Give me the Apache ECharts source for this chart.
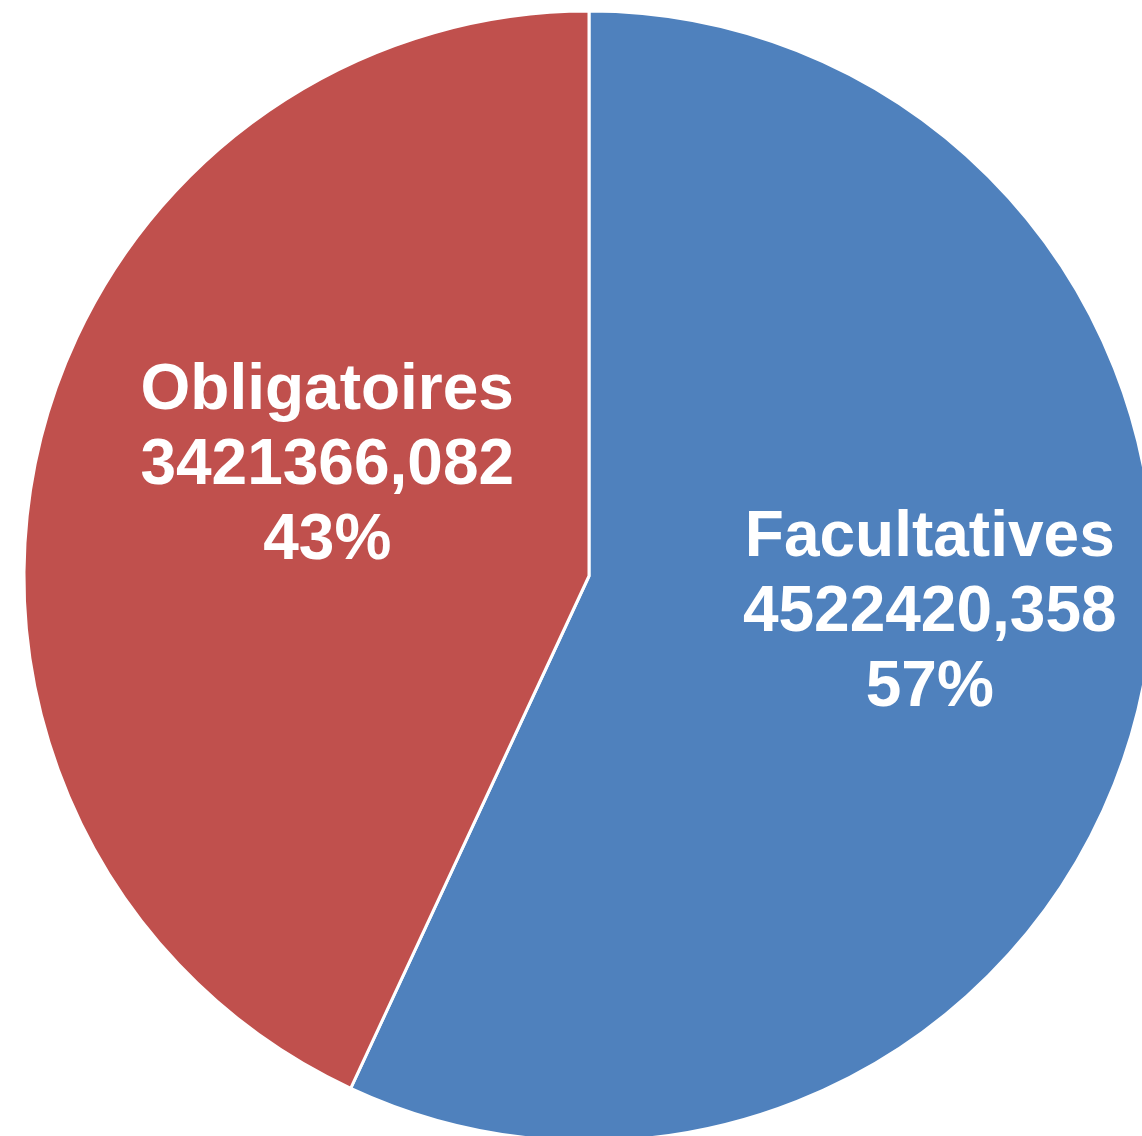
<!DOCTYPE html>
<html>
<head>
<meta charset="utf-8">
<script src="https://cdn.jsdelivr.net/npm/echarts@6/dist/echarts.min.js"></script>
<style>
html,body{margin:0;padding:0;background:#fff;}
#chart{width:1142px;height:1136px;}
</style>
</head>
<body>
<div id="chart"></div>
<script>
const categories = ['Facultatives', 'Obligatoires'];
const values = [4522420.358, 3421366.082];
const valueLabels = ['4522420,358', '3421366,082'];
const colors = ['#4F81BD', '#C0504D'];
const labelShift = [[62, -24], [17, -48]];

const total = values.reduce((a, b) => a + b, 0);
const chart = echarts.init(document.getElementById('chart'), null, {renderer: 'canvas'});
chart.setOption({
  animation: false,
  backgroundColor: '#ffffff',
  series: [{
    type: 'pie',
    center: [589, 576],
    radius: [0, 565],
    startAngle: 90,
    clockwise: true,
    data: categories.map((c, i) => ({
      name: c,
      value: values[i],
      itemStyle: {color: colors[i]}
    })),
    itemStyle: {borderColor: '#ffffff', borderWidth: 3},
    label: {
      show: true,
      position: 'inside',
      color: '#ffffff',
      fontFamily: 'Liberation Sans, Arial, sans-serif',
      fontWeight: 'bold',
      fontSize: 64,
      lineHeight: 75,
      align: 'center',
      formatter: function (p) {
        return p.name + '\n' + valueLabels[p.dataIndex] + '\n' + Math.round(p.value / total * 100) + '%';
      }
    },
    labelLine: {show: false},
    labelLayout: function (p) {
      return {dx: labelShift[p.dataIndex][0], dy: labelShift[p.dataIndex][1]};
    }
  }]
});
</script>
</body>
</html>
